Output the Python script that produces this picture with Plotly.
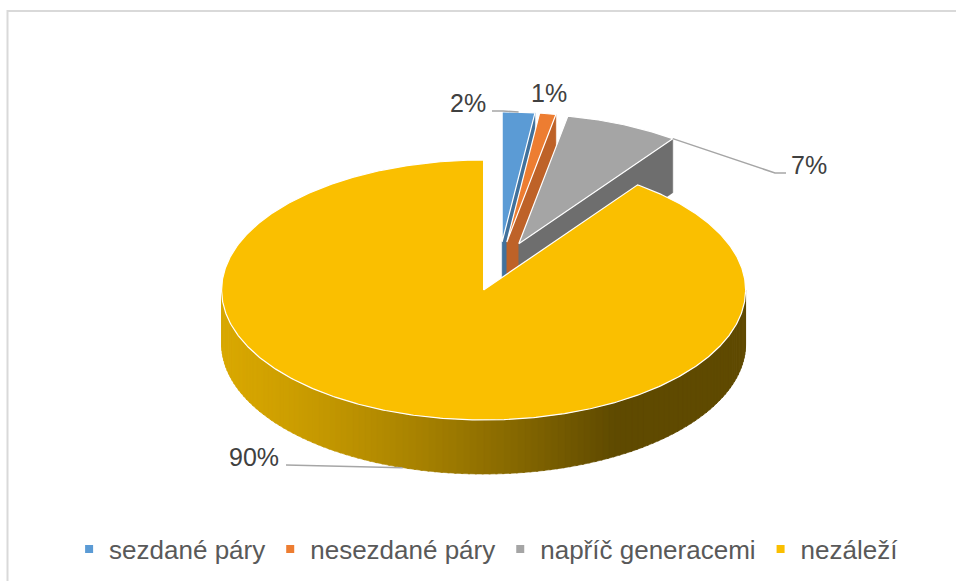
import numpy as np
import plotly.graph_objects as go

# ---------------- data ----------------
categories = ["sezdané páry", "nesezdané páry", "napříč generacemi", "nezáleží"]
values = [2, 1, 7, 90]
label_texts = [f"{v}%" for v in values]

# ---------------- styles / layout constants ----------------
top_colors = ["#5B9BD5", "#ED7D31", "#A5A5A5", "#FABF00"]
side_colors = ["#41719C", "#BE6228", "#6E6E6E", None]   # None -> shaded gradient
grad_light = np.array([217, 168, 0])
grad_dark = np.array([95, 74, 0])

W, H = 956, 581
CX, CY = 499.0, 266.5     # pie centre (pixels)
RX, RY = 262.0, 130.0     # ellipse radii
DEPTH = 54.0              # thickness of the 3D pie
EXPLODE = 0.19            # explosion of every slice (fraction of radius)
FONT = "Liberation Sans, Arial, sans-serif"
TEXT_COL = "#404040"
LEADER_COL = "#A6A6A6"

# label positions (pixel centres) and leader-line geometry
label_pos = [(468, 103), (549, 93), (809, 165), (254, 457)]
leader = {
    0: {"angle": "mid", "face": "top", "path": [(503, 111), (492, 111)]},
    2: {"angle": "end", "face": "top", "path": [(775, 173), (786, 173)]},
    3: {"angle": "mid", "face": "bottom", "path": [(286, 465)]},
}

# ---------------- geometry helpers ----------------
total = float(sum(values))
starts, ends = [], []
acc = 0.0
for v in values:
    starts.append(acc / total * 360.0)
    acc += v
    ends.append(acc / total * 360.0)


def vertex(i):
    mid = np.radians((starts[i] + ends[i]) / 2.0)
    return (CX + EXPLODE * RX * np.sin(mid), CY - EXPLODE * RY * np.cos(mid))


def pts(V, thetas, dz=0.0):
    t = np.radians(np.asarray(thetas, dtype=float))
    return V[0] + RX * np.sin(t), V[1] - RY * np.cos(t) + dz


def arc(a, b, step=0.5):
    n = max(2, int(np.ceil(abs(b - a) / step)) + 1)
    return np.linspace(a, b, n)


fig = go.Figure()


def poly(xs, ys, color, line_color=None, line_width=0):
    fig.add_trace(go.Scatter(
        x=list(xs), y=list(ys), mode="lines", fill="toself",
        fillcolor=color,
        line=dict(color=line_color or color, width=line_width),
        hoverinfo="skip", showlegend=False))


# ---------------- side faces (back to front) ----------------
order = sorted(range(len(values)), key=lambda i: vertex(i)[1])
for i in order:
    a, b = starts[i], ends[i]
    V = vertex(i)
    # radial face at the end angle
    if 0 < b < 180:
        px, py = pts(V, [b])
        xs = [V[0], px[0], px[0], V[0], V[0]]
        ys = [V[1], py[0], py[0] + DEPTH, V[1] + DEPTH, V[1]]
        col = side_colors[i] or "#8A6A00"
        poly(xs, ys, col, line_width=0.5)
    # radial face at the start angle
    if 180 < a < 360:
        px, py = pts(V, [a])
        xs = [V[0], px[0], px[0], V[0], V[0]]
        ys = [V[1], py[0], py[0] + DEPTH, V[1] + DEPTH, V[1]]
        col = side_colors[i] or "#8A6A00"
        poly(xs, ys, col, line_width=0.5)
    # outer wall (front half only)
    lo, hi = max(a, 90.0), min(b, 270.0)
    if hi > lo:
        if side_colors[i] is None:
            step = 1.5
            edges = np.arange(lo, hi + 1e-9, step)
            if edges[-1] < hi:
                edges = np.append(edges, hi)
            for k in range(len(edges) - 1):
                t0, t1 = edges[k], min(edges[k + 1] + 0.4, hi)
                th = arc(t0, t1, 0.25)
                tx, ty = pts(V, th)
                bx, by = pts(V, th[::-1], DEPTH)
                nx = np.sin(np.radians((t0 + t1) / 2))
                t = np.clip((nx + 1) / 1.5, 0, 1) ** 1.3
                c = (grad_light + (grad_dark - grad_light) * t).astype(int)
                col = f"rgb({c[0]},{c[1]},{c[2]})"
                poly(np.r_[tx, bx, tx[:1]], np.r_[ty, by, ty[:1]], col, line_width=0.6)
        else:
            th = arc(lo, hi)
            tx, ty = pts(V, th)
            bx, by = pts(V, th[::-1], DEPTH)
            poly(np.r_[tx, bx, tx[:1]], np.r_[ty, by, ty[:1]], side_colors[i], line_width=0.5)

# ---------------- top faces ----------------
for i in range(len(values)):
    V = vertex(i)
    th = arc(starts[i], ends[i])
    ax_, ay_ = pts(V, th)
    xs = np.r_[V[0], ax_, V[0]]
    ys = np.r_[V[1], ay_, V[1]]
    poly(xs, ys, top_colors[i], line_color="white", line_width=1.2)

# ---------------- leader lines ----------------
for i, spec in leader.items():
    V = vertex(i)
    ang = (starts[i] + ends[i]) / 2 if spec["angle"] == "mid" else ends[i]
    dz = DEPTH if spec["face"] == "bottom" else 0.0
    px, py = pts(V, [ang], dz)
    xs = [px[0]] + [p[0] for p in spec["path"]]
    ys = [py[0]] + [p[1] for p in spec["path"]]
    fig.add_trace(go.Scatter(x=xs, y=ys, mode="lines",
                             line=dict(color=LEADER_COL, width=1.5),
                             hoverinfo="skip", showlegend=False))

# ---------------- data labels ----------------
for txt, (lx, ly) in zip(label_texts, label_pos):
    fig.add_annotation(x=lx, y=ly, xref="x", yref="y", text=txt,
                       showarrow=False, xanchor="center", yanchor="middle",
                       font=dict(family=FONT, size=25, color=TEXT_COL))

# ---------------- legend entries ----------------
for name, col in zip(categories, top_colors):
    fig.add_trace(go.Scatter(x=[None], y=[None], mode="markers", name=name,
                             marker=dict(symbol="square", size=8, color=col),
                             showlegend=True))

# ---------------- chart border ----------------
fig.add_shape(type="line", xref="x", yref="y", x0=7, x1=W + 5, y0=11, y1=11,
              line=dict(color="#D9D9D9", width=2))
fig.add_shape(type="line", xref="x", yref="y", x0=7.5, x1=7.5, y0=10, y1=H + 5,
              line=dict(color="#D9D9D9", width=2))

fig.update_layout(
    width=W, height=H,
    margin=dict(l=0, r=0, t=0, b=0),
    paper_bgcolor="white", plot_bgcolor="white",
    xaxis=dict(range=[0, W], visible=False, fixedrange=True),
    yaxis=dict(range=[H, 0], visible=False, fixedrange=True),
    legend=dict(orientation="h", x=0.509, xanchor="center",
                y=1 - 549 / H, yanchor="middle",
                font=dict(family=FONT, size=26, color="#595959"),
                itemclick=False, itemdoubleclick=False,
                bgcolor="rgba(0,0,0,0)"),
    font=dict(family=FONT),
    hovermode=False,
)

fig.write_html(
    "out.html",
    config={"displayModeBar": False},
    post_script="document.body.style.margin='0';document.body.style.overflow='hidden';",
)
